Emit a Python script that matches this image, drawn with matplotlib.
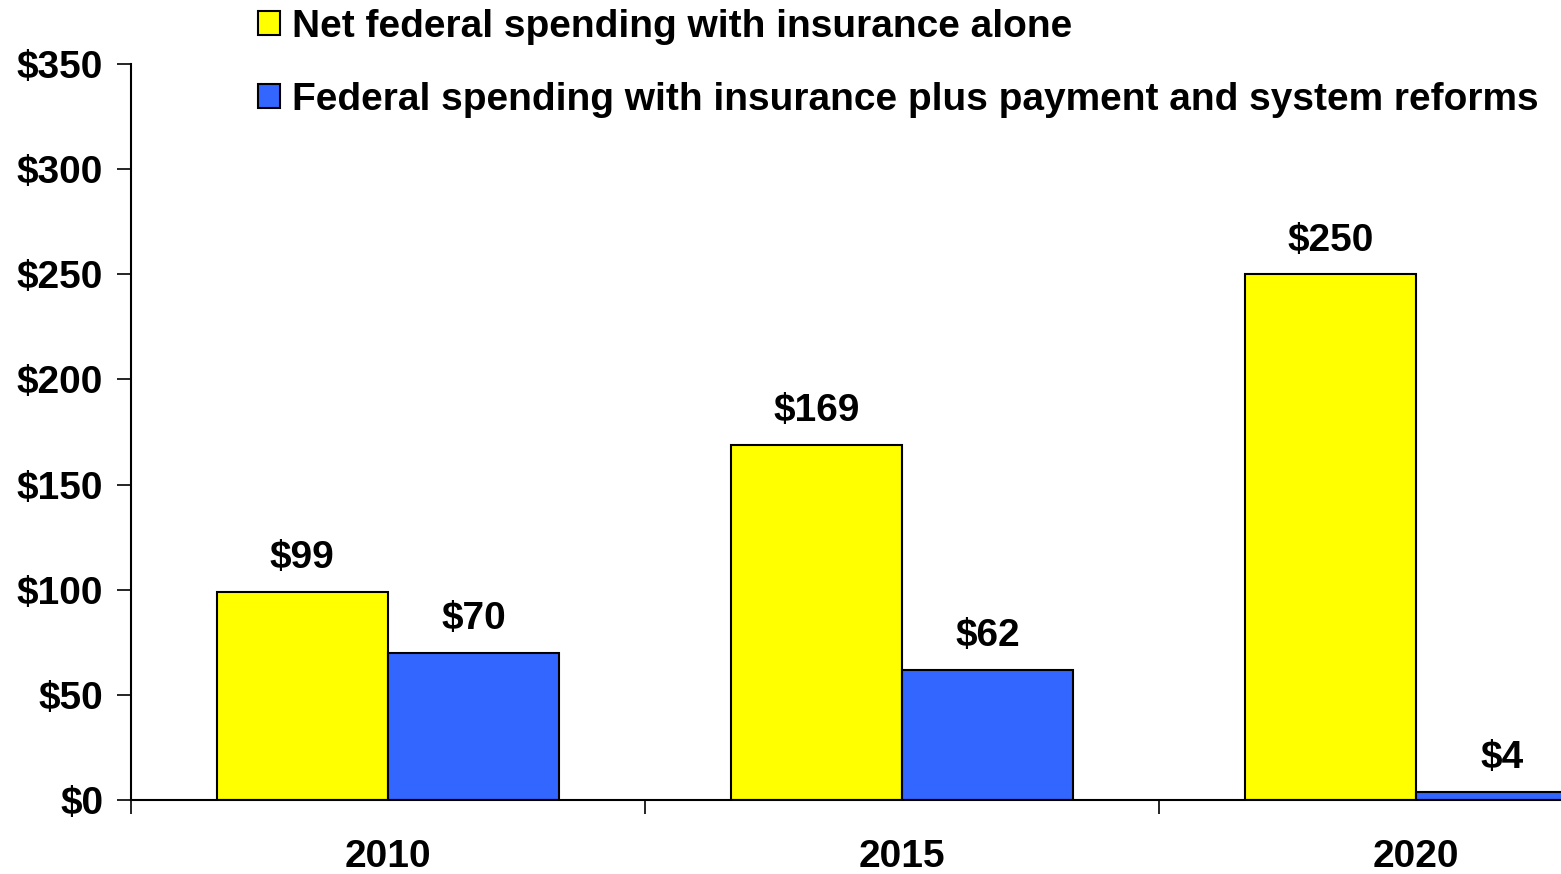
import matplotlib
matplotlib.use("Agg")
import matplotlib.pyplot as plt
import numpy as np
from matplotlib.ticker import FuncFormatter, FixedLocator

plt.rcParams["font.family"] = ["Liberation Sans", "DejaVu Sans"]
plt.rcParams["font.weight"] = "bold"

years = ["2010", "2015", "2020"]
insurance_alone = [99, 169, 250]
with_reforms = [70, 62, 4]
series_names = ["Net federal spending with insurance alone",
                "Federal spending with insurance plus payment and system reforms"]

YELLOW, BLUE = "#FFFF00", "#3366FF"
FS = 28

fig = plt.figure(figsize=(15.61, 8.74), dpi=100)
# axes run past the right edge of the figure, so the last bar is clipped
ax = fig.add_axes([131 / 1561, 74 / 874, 1542 / 1561, 736 / 874])

x = np.arange(len(years))
w = 1 / 3
b1 = ax.bar(x - w / 2, insurance_alone, w, color=YELLOW, edgecolor="black",
            linewidth=1.5, label=series_names[0])
b2 = ax.bar(x + w / 2, with_reforms, w, color=BLUE, edgecolor="black",
            linewidth=1.5, label=series_names[1])

for bars, vals in ((b1, insurance_alone), (b2, with_reforms)):
    for r, v in zip(bars, vals):
        ax.annotate(f"${v}", (r.get_x() + r.get_width() / 2, v),
                    xytext=(0, 24), textcoords="offset points",
                    ha="center", va="center", fontsize=FS, fontweight="bold")

ax.set_xlim(-0.5, len(years) - 0.5)
ax.set_ylim(0, 350)
ax.set_yticks(np.arange(0, 351, 50))
ax.yaxis.set_major_formatter(FuncFormatter(lambda v, p: f"${v:.0f}"))
ax.set_xticks(x)
ax.set_xticklabels(years)
ax.xaxis.set_minor_locator(FixedLocator(np.arange(-0.5, len(years), 1.0)))

ax.tick_params(axis="y", direction="out", length=10, width=1.2,
               labelsize=FS, pad=10)
ax.tick_params(axis="x", which="major", length=0, labelsize=FS, pad=28)
ax.tick_params(axis="x", which="minor", direction="out", length=10, width=1.2)
for s in ("top", "right"):
    ax.spines[s].set_visible(False)
for s in ("left", "bottom"):
    ax.spines[s].set_linewidth(1.5)

leg = fig.legend(handles=[b1, b2], loc="upper left",
                 bbox_to_anchor=(258 / 1561, 1 - 9 / 874),
                 frameon=False, fontsize=FS, handlelength=0.57,
                 handleheight=0.57, handletextpad=0.31, labelspacing=0.95,
                 borderpad=0, borderaxespad=0)
for t in leg.get_texts():
    t.set_fontweight("bold")

fig.savefig("out.png", dpi=100, facecolor="white")
